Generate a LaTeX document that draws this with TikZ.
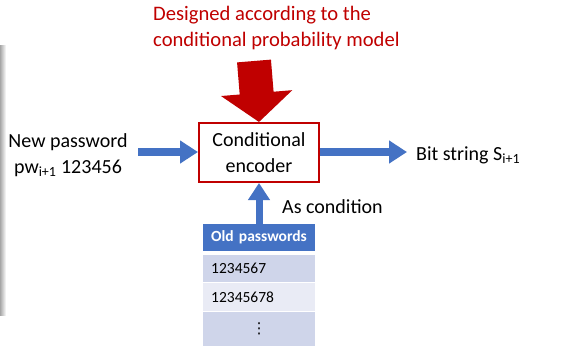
\documentclass[tikz,border=0pt]{standalone}
\usepackage{fontspec}
\setmainfont{Carlito}
\newfontfamily\symfont{DejaVu Sans}
\usetikzlibrary{arrows.meta}
\definecolor{dred}{HTML}{C00000}
\definecolor{mblue}{HTML}{4472C4}
\definecolor{rowA}{HTML}{CFD5EA}
\definecolor{rowB}{HTML}{E9EBF5}
\begin{document}
\begin{tikzpicture}[x=1pt,y=-1pt,
  bigtext/.style={font=\fontsize{20}{25.5}\selectfont, inner sep=0pt},
  bluearrow/.style={draw=mblue, line width=8pt, -{Triangle[width=22pt,length=18pt]}},
  cell/.style={minimum width=112pt, text width=96pt, inner xsep=8pt, inner ysep=0pt, align=left, font=\fontsize{15.5}{18}\selectfont, anchor=north west},
]
\useasboundingbox (0,0) rectangle (580,346);
\fill[white] (0,0) rectangle (580,346);
% left shadow bar
\shade[left color=gray!70, right color=white] (0,45) rectangle (6,315);

% red title
\node[bigtext, text=dred, align=left, anchor=north west, font=\fontsize{20.6}{26}\selectfont] (title) at (153,6) {Designed according to the\\conditional probability model};

% encoder box
\node[draw=dred, line width=2pt, minimum width=120pt, minimum height=59pt, align=center, bigtext] (enc) at (259,152.5) {Conditional\\encoder};

% big red arrow
\coordinate (rtop) at (254,61);
\draw[dred, line width=34pt, -{Triangle[width=70pt,length=29pt]}] (rtop) -- (enc.north);

% left text
\node[bigtext, align=center] (newpw) at (68,155) {New password\\pw\textsubscript{i+1} 123456};
\draw[bluearrow] (138,152) -- (enc.west |- 0,152);

% right text
\node[bigtext, anchor=west] (bits) at (416,155) {Bit string S\textsubscript{i+1}};
\draw[bluearrow, shorten >=9pt] (enc.east |- 0,152) -- (bits.west |- 0,152);

% table
\node[cell, fill=mblue, text=white, minimum height=27pt, font=\bfseries\fontsize{15.5}{18}\selectfont] (hdr) at (203,224) {Old passwords};
\node[cell, fill=rowA, minimum height=27pt] (r1) at (203,255) {1234567};
\node[cell, fill=rowB, minimum height=28pt] (r2) at (203,283) {12345678};
\node[cell, fill=rowA, minimum height=34pt, align=center, font=\symfont\fontsize{15}{16}\selectfont] (r3) at (203,312) {⋮};

% up arrow
\draw[draw=mblue, line width=7pt, -{Triangle[width=21pt,length=17pt]}] (hdr.north -| enc.south) -- (enc.south);
\node[bigtext, anchor=west] (cond) at (282,207) {As condition};
\end{tikzpicture}
\end{document}
